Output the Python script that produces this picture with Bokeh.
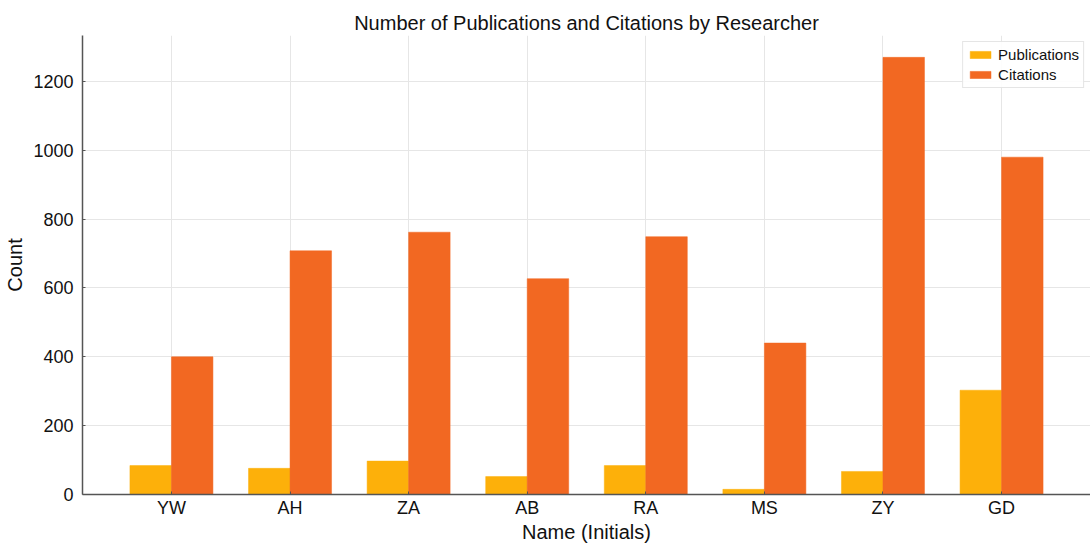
from bokeh.plotting import figure
from bokeh.models import ColumnDataSource, FactorRange, SingleIntervalTicker, Legend, LegendItem
from bokeh.transform import dodge
from bokeh.embed import file_html
from bokeh.resources import INLINE

# Researchers (initials) and their counts
names = ["YW", "AH", "ZA", "AB", "RA", "MS", "ZY", "GD"]
publications = [84, 76, 97, 52, 84, 15, 67, 303]
citations = [400, 708, 762, 627, 749, 440, 1270, 980]

PUB_COLOR = "#FDB00A"
CIT_COLOR = "#F26822"
FONT = "Liberation Sans"

source = ColumnDataSource(dict(name=names, pub=publications, cit=citations))

p = figure(
    width=1090, height=546,
    x_range=FactorRange(factors=names, range_padding=0.25, range_padding_units="absolute"),
    y_range=(0, max(citations) * 1.05),
    output_backend="svg", toolbar_location=None,
    min_border_left=82, min_border_right=0, min_border_top=35, min_border_bottom=52,
    title="Number of Publications and Citations by Researcher",
)

bw = 0.35
r_pub = p.vbar(x=dodge("name", -bw / 2, range=p.x_range), top="pub", width=bw,
               source=source, fill_color=PUB_COLOR, line_color=PUB_COLOR, line_width=0.5)
r_cit = p.vbar(x=dodge("name", bw / 2, range=p.x_range), top="cit", width=bw,
               source=source, fill_color=CIT_COLOR, line_color=CIT_COLOR, line_width=0.5)

# Title
p.title.align = "center"
p.title.text_font = FONT
p.title.text_font_size = "20px"
p.title.text_font_style = "normal"
p.title.text_color = "#111111"
p.title.standoff = 4

# Axes
p.xaxis.axis_label = "Name (Initials)"
p.yaxis.axis_label = "Count"
p.yaxis.ticker = SingleIntervalTicker(interval=200)
for ax in (p.xaxis[0], p.yaxis[0]):
    ax.axis_label_text_font = FONT
    ax.axis_label_text_font_size = "20px"
    ax.axis_label_text_font_style = "normal"
    ax.axis_label_text_color = "#111111"
    ax.major_label_text_font = FONT
    ax.major_label_text_font_size = "18px"
    ax.major_label_text_color = "#111111"
    ax.axis_line_color = "#555555"
    ax.axis_line_width = 1.5
    ax.major_tick_line_color = "#555555"
    ax.major_tick_in = 3
    ax.major_tick_out = 0
    ax.minor_tick_line_color = None
p.xaxis.axis_label_standoff = 0
p.yaxis.axis_label_standoff = 4
p.xaxis.major_label_standoff = 3
p.yaxis.major_label_standoff = 5

# Grid
p.xgrid.grid_line_color = "#e6e6e6"
p.ygrid.grid_line_color = "#e6e6e6"
p.outline_line_color = None

# Legend
legend = Legend(items=[LegendItem(label="Publications", renderers=[r_pub]),
                       LegendItem(label="Citations", renderers=[r_cit])],
                location="top_right")
legend.label_text_font = FONT
legend.label_text_font_size = "15px"
legend.label_text_color = "#111111"
legend.glyph_width = 26
legend.glyph_height = 9
legend.label_height = 15
legend.spacing = 3
legend.padding = 4
legend.margin = 6
legend.border_line_color = "#cccccc"
legend.background_fill_alpha = 0.9
legend.label_standoff = 5
p.add_layout(legend)

open("out.html", "w").write(file_html(p, INLINE))
